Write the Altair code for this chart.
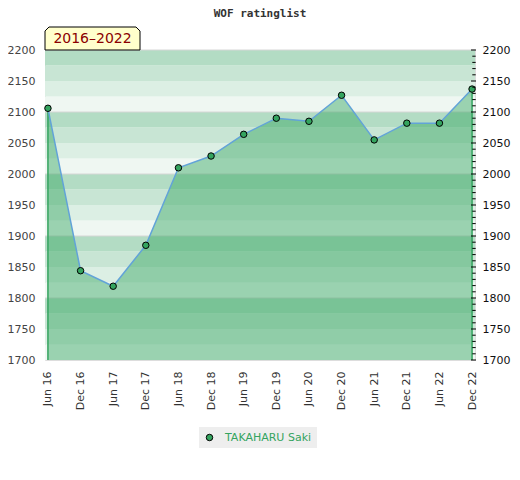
import altair as alt
import pandas as pd

# ---- data ----
periods = ["Jun 16", "Dec 16", "Jun 17", "Dec 17", "Jun 18", "Dec 18", "Jun 19",
           "Dec 19", "Jun 20", "Dec 20", "Jun 21", "Dec 21", "Jun 22", "Dec 22"]
ratings = [2106, 1844, 1819, 1885, 2010, 2029, 2064,
           2090, 2085, 2127, 2055, 2082, 2082, 2137]
player = "TAKAHARU Saki"
chart_title = "WOF ratinglist"
period_label = "2016–2022"
y_min, y_max = 1700, 2200

GREEN = "#34a45f"
W, H = 430, 310

df = pd.DataFrame({"period": periods, "rating": ratings, "name": player})
edges = df.iloc[[0, len(df) - 1]].copy()

# background bands: each 100-point block split into 4 strips of 25
bands = pd.DataFrame({
    "lo": list(range(y_min, y_max, 25)),
    "hi": list(range(y_min + 25, y_max + 25, 25)),
})
bands["level"] = ((bands["lo"] % 100) // 25).astype(str)
grid = pd.DataFrame({"v": list(range(y_min + 100, y_max + 1, 100))})
ticks = pd.DataFrame({"v": list(range(y_min, y_max + 1, 10))})
ticks["major"] = ticks["v"] % 50 == 0

xs = alt.Scale(type="point", domain=periods, padding=0.09)
ys = alt.Scale(domain=[y_min, y_max], zero=False, nice=False)
yvals = list(range(y_min, y_max + 1, 50))

band_layer = alt.Chart(bands).mark_rect().encode(
    x=alt.value(0), x2=alt.value(W),
    y=alt.Y("lo:Q", scale=ys, axis=None), y2="hi:Q",
    color=alt.Color("level:N", legend=None,
                    scale=alt.Scale(domain=["3", "2", "1", "0"],
                                    range=["#b3dcc4", "#c8e5d4", "#dcefe4", "#eff7f2"])),
)

grid_layer = alt.Chart(grid).mark_rule(color="#d6d6d6", strokeWidth=1).encode(
    y=alt.Y("v:Q", scale=ys, axis=None), x=alt.value(0), x2=alt.value(W),
)

area_layer = alt.Chart(df).mark_area(color=GREEN, opacity=0.45).encode(
    x=alt.X("period:N", scale=xs, sort=periods, title=None,
            axis=alt.Axis(labelAngle=270, labelAlign="right", labelBaseline="middle",
                          labelPadding=11, ticks=False, domain=False, grid=False,
                          labelFontSize=11, labelColor="#333333", labelFont="DejaVu Sans")),
    y=alt.Y("rating:Q", scale=ys, title=None,
            axis=alt.Axis(orient="left", values=yvals, format="d",
                          ticks=False, domain=False, grid=False, labelPadding=10,
                          labelFontSize=11, labelColor="#444444", labelFont="DejaVu Sans")),
    y2=alt.datum(y_min),
)

edge_layer = alt.Chart(edges).mark_rule(color=GREEN, strokeWidth=1.5).encode(
    x=alt.X("period:N", scale=xs, sort=periods, title=None),
    y=alt.Y("rating:Q", scale=ys, axis=None),
    y2=alt.datum(y_min),
)

line_layer = alt.Chart(df).mark_line(color="#62a3d8", strokeWidth=1.5).encode(
    x=alt.X("period:N", scale=xs, sort=periods, title=None),
    y=alt.Y("rating:Q", scale=ys, title=None,
            axis=alt.Axis(orient="right", values=yvals, format="d",
                          ticks=False, domain=False, grid=False, labelPadding=7,
                          labelFontSize=11, labelColor="#111111", labelFont="DejaVu Sans")),
)

point_layer = alt.Chart(df).mark_point(filled=True, size=42, stroke="black",
                                       strokeWidth=1, opacity=1).encode(
    x=alt.X("period:N", scale=xs, sort=periods, title=None),
    y=alt.Y("rating:Q", scale=ys, axis=None),
    color=alt.Color("name:N", scale=alt.Scale(range=[GREEN]), title=None,
                    legend=alt.Legend(orient="none", legendX=154, legendY=377,
                                      fillColor="#eeeeee", padding=5,
                                      symbolType="circle", symbolSize=42,
                                      symbolStrokeColor="black", symbolStrokeWidth=1,
                                      labelColor=GREEN, labelFontSize=11,
                                      labelFont="DejaVu Sans", labelOffset=10)),
)

major_ticks = alt.Chart(ticks[ticks["major"]]).mark_rule(color="black", strokeWidth=1).encode(
    y=alt.Y("v:Q", scale=ys, axis=None), x=alt.value(W - 4), x2=alt.value(W + 1),
)
minor_ticks = alt.Chart(ticks[~ticks["major"]]).mark_rule(color="black", strokeWidth=1).encode(
    y=alt.Y("v:Q", scale=ys, axis=None), x=alt.value(W - 2.7), x2=alt.value(W + 0.7),
)

box_path = "M -1 0.242 L -1 -0.158 L -0.916 -0.242 L 0.916 -0.242 L 1 -0.158 L 1 0.242 Z"
box_layer = alt.Chart(pd.DataFrame({"t": [period_label]})).mark_point(
    shape=box_path, size=95 * 95, filled=True, fill="#ffffcc", stroke="black",
    strokeWidth=1, opacity=1,
).encode(x=alt.value(47.5), y=alt.value(-11.5))

box_text = alt.Chart(pd.DataFrame({"t": [period_label]})).mark_text(
    font="DejaVu Sans", fontSize=14, color="#8b0000", align="center", baseline="middle",
).encode(x=alt.value(47.5), y=alt.value(-11), text="t:N")

title_text = alt.Chart(pd.DataFrame({"t": [chart_title]})).mark_text(
    font="DejaVu Sans Mono", fontSize=11, fontWeight="bold", color="#333333",
    align="center", baseline="middle",
).encode(x=alt.value(W / 2), y=alt.value(-36), text="t:N")

chart = alt.layer(
    band_layer, grid_layer, area_layer, edge_layer, line_layer, point_layer,
    major_ticks, minor_ticks, box_layer, box_text, title_text,
).resolve_axis(y="independent").resolve_scale(color="independent").properties(
    width=W, height=H,
    autosize=alt.AutoSizeParams(type="none"),
    padding={"left": 37, "top": 42, "right": 37, "bottom": 100},
).configure_view(stroke="#d6d6d6", strokeWidth=1).configure(font="DejaVu Sans")

chart.save("out.html", embed_options={"renderer": "svg", "actions": False})
